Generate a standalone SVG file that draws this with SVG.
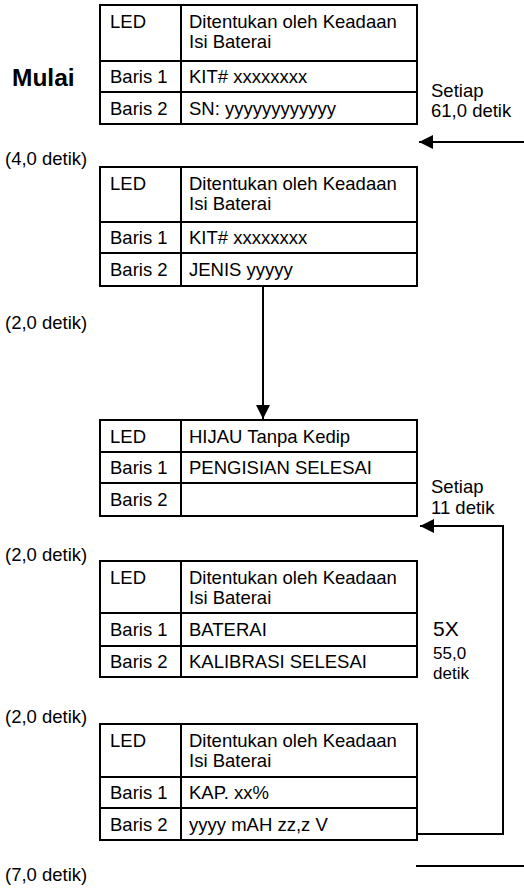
<svg xmlns="http://www.w3.org/2000/svg" width="524" height="890" viewBox="0 0 524 890">
<style>
text{font-family:"Liberation Sans",Arial,sans-serif;font-size:18.5px;fill:#000}
.b{fill:#fff;stroke:#000;stroke-width:2}
.l{stroke:#000;stroke-width:2;fill:none}
.t{font-weight:bold;font-size:24.5px}
.big{font-size:21px}
.sm{font-size:17px}
</style>
<defs>
<marker id="ah" viewBox="0 0 10 10" refX="10" refY="5" markerWidth="8" markerHeight="7" orient="auto" markerUnits="strokeWidth"><path d="M0,0L10,5L0,10z" fill="#000"/></marker>
</defs>
<text class="t" x="12" y="86">Mulai</text>
<g id="n1">
<rect class="b" x="100" y="5" width="317" height="119"/>
<path class="l" d="M181,5V124M100,61H417M100,92H417"/>
<text x="110" y="28">LED</text><text x="189" y="28">Ditentukan oleh Keadaan</text><text x="189" y="48">Isi Baterai</text>
<text x="110" y="83">Baris 1</text><text x="189" y="83">KIT# xxxxxxxx</text>
<text x="110" y="115">Baris 2</text><text x="189" y="115">SN: yyyyyyyyyyyy</text>
</g>
<g id="n2">
<rect class="b" x="100" y="167" width="317" height="119"/>
<path class="l" d="M181,167V286M100,222H417M100,253H417"/>
<text x="110" y="190">LED</text><text x="189" y="190">Ditentukan oleh Keadaan</text><text x="189" y="210">Isi Baterai</text>
<text x="110" y="244">Baris 1</text><text x="189" y="244">KIT# xxxxxxxx</text>
<text x="110" y="276">Baris 2</text><text x="189" y="276">JENIS yyyyy</text>
</g>
<g id="n3">
<rect class="b" x="100" y="420" width="317" height="96"/>
<path class="l" d="M181,420V516M100,452H417M100,483H417"/>
<text x="110" y="443">LED</text><text x="189" y="443">HIJAU Tanpa Kedip</text>
<text x="110" y="474">Baris 1</text><text x="189" y="474">PENGISIAN SELESAI</text>
<text x="110" y="506">Baris 2</text>
</g>
<g id="n4">
<rect class="b" x="100" y="561" width="317" height="116"/>
<path class="l" d="M181,561V677M100,613H417M100,646H417"/>
<text x="110" y="584">LED</text><text x="189" y="584">Ditentukan oleh Keadaan</text><text x="189" y="604">Isi Baterai</text>
<text x="110" y="636">Baris 1</text><text x="189" y="636">BATERAI</text>
<text x="110" y="668">Baris 2</text><text x="189" y="668">KALIBRASI SELESAI</text>
</g>
<g id="n5">
<rect class="b" x="100" y="724" width="317" height="116"/>
<path class="l" d="M181,724V840M100,777H417M100,808H417"/>
<text x="110" y="747">LED</text><text x="189" y="747">Ditentukan oleh Keadaan</text><text x="189" y="767">Isi Baterai</text>
<text x="110" y="799">Baris 1</text><text x="189" y="799">KAP. xx%</text>
<text x="110" y="831">Baris 2</text><text x="189" y="831">yyyy mAH zz,z V</text>
</g>
<g id="connectors">
<path class="l" d="M524,142H419" marker-end="url(#ah)"/>
<path class="l" d="M263,286V419" marker-end="url(#ah)"/>
<path class="l" d="M417,834H503V526H420" marker-end="url(#ah)"/>
<path class="l" d="M416,866H524"/>
</g>
<g id="labels">
<text x="431" y="97">Setiap</text><text x="431" y="117">61,0 detik</text>
<text x="5" y="165">(4,0 detik)</text>
<text x="5" y="329">(2,0 detik)</text>
<text x="431" y="493">Setiap</text><text x="431" y="514">11 detik</text>
<text x="5" y="561">(2,0 detik)</text>
<text class="big" x="433" y="636">5X</text>
<text class="sm" x="433" y="659">55,0</text><text class="sm" x="433" y="679">detik</text>
<text x="5" y="723">(2,0 detik)</text>
<text x="5" y="881">(7,0 detik)</text>
</g>
</svg>
